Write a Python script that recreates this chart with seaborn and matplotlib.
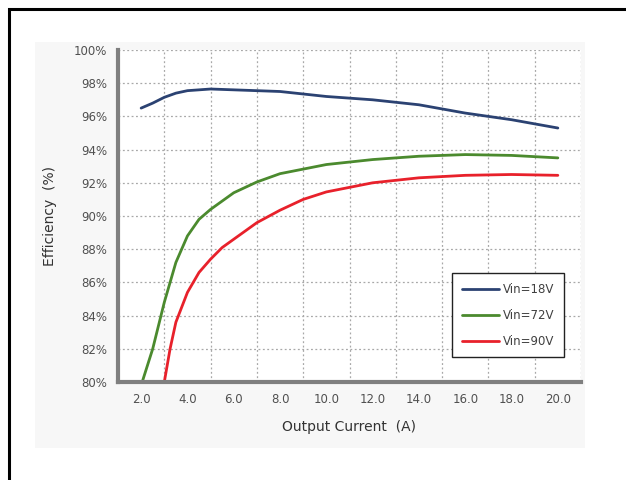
import numpy as np
import matplotlib
matplotlib.use("Agg")
import matplotlib.pyplot as plt
import seaborn as sns
import pandas as pd
from matplotlib.patches import Rectangle

# values
current_18 = [2.0, 2.5, 3.0, 3.5, 4.0, 5.0, 6.0, 8.0, 10.0, 12.0, 14.0, 16.0, 18.0, 20.0]
eff_18 = [96.5, 96.8, 97.15, 97.4, 97.55, 97.65, 97.6, 97.5, 97.2, 97.0, 96.7, 96.2, 95.8, 95.3]

current_72 = [2.0, 2.5, 3.0, 3.5, 4.0, 4.5, 5.0, 6.0, 7.0, 8.0, 10.0, 12.0, 14.0, 16.0, 18.0, 20.0]
eff_72 = [79.8, 82.0, 84.8, 87.2, 88.8, 89.8, 90.4, 91.4, 92.05, 92.55, 93.1, 93.4, 93.6, 93.7, 93.65, 93.5]

current_90 = [3.0, 3.25, 3.5, 4.0, 4.5, 5.0, 5.5, 6.0, 7.0, 8.0, 9.0, 10.0, 12.0, 14.0, 16.0, 18.0, 20.0]
eff_90 = [80.0, 82.0, 83.6, 85.4, 86.6, 87.4, 88.1, 88.6, 89.6, 90.35, 91.0, 91.45, 92.0, 92.3, 92.45, 92.5, 92.45]

series = ["Vin=18V", "Vin=72V", "Vin=90V"]
x_ticks = [2, 4, 6, 8, 10, 12, 14, 16, 18, 20]
y_ticks = [80, 82, 84, 86, 88, 90, 92, 94, 96, 98, 100]

df = pd.concat([
    pd.DataFrame({"current": current_18, "eff": eff_18, "vin": series[0]}),
    pd.DataFrame({"current": current_72, "eff": eff_72, "vin": series[1]}),
    pd.DataFrame({"current": current_90, "eff": eff_90, "vin": series[2]}),
])

sns.set_theme(style="white")
plt.rcParams["font.family"] = ["DejaVu Sans"]

fig = plt.figure(figsize=(6.26, 4.8), dpi=100)
fig.patch.set_facecolor("white")
# outer frame and faint chart area, behind the axes
fig.patches.append(Rectangle((9 / 626, -0.05), 1.1, 1 - 9 / 480 + 0.05, transform=fig.transFigure,
                             fill=False, edgecolor="black", linewidth=2.2, zorder=-2))
fig.patches.append(Rectangle((35 / 626, 1 - 448 / 480), 550 / 626, 406 / 480, transform=fig.transFigure,
                             facecolor="#f7f7f7", edgecolor="none", zorder=-3))

ax = fig.add_axes([118 / 626, 1 - 382 / 480, 463 / 626, 332 / 480])
ax.set_zorder(1)
ax.set_facecolor("white")
palette = {"Vin=18V": "#2b4272", "Vin=72V": "#4b8a2e", "Vin=90V": "#e8212b"}
sns.lineplot(data=df, x="current", y="eff", hue="vin", palette=palette, linewidth=2.0, ax=ax)

ax.set_xlim(1, 21)
ax.set_ylim(80, 100)
ax.set_xticks(x_ticks)
ax.set_xticklabels([f"{v:.1f}" for v in x_ticks])
ax.set_yticks(y_ticks)
ax.set_yticklabels([f"{v}%" for v in y_ticks])
ax.set_xticks(np.arange(3, 22, 2), minor=True)
ax.tick_params(axis="both", which="both", length=0, labelsize=8.5, labelcolor="#505050", pad=8)

ax.grid(False)
ax.yaxis.grid(True, which="major", linestyle=(0, (1.5, 2)), color="#a8a8a8", linewidth=0.9)
ax.xaxis.grid(False, which="major")
ax.xaxis.grid(True, which="minor", linestyle=(0, (1.5, 2)), color="#a8a8a8", linewidth=0.9)

for s in ["top", "right"]:
    ax.spines[s].set_visible(False)
for s in ["left", "bottom"]:
    ax.spines[s].set_color("#7f7f7f")
    ax.spines[s].set_linewidth(3)

ax.set_xlabel("Output Current  (A)", fontsize=10, color="#333333", labelpad=10)
ax.set_ylabel("Efficiency  (%)", fontsize=10, color="#333333", labelpad=12)

leg = ax.legend(loc="lower right", bbox_to_anchor=(0.976, 0.057), fontsize=8.5,
                frameon=True, fancybox=False, edgecolor="#222222", framealpha=1,
                handlelength=3.2, labelspacing=1.1, handletextpad=0.3, borderpad=0.8)
leg.get_frame().set_linewidth(1.0)
for t in leg.get_texts():
    t.set_color("#404040")

fig.savefig("out.png", dpi=100)
